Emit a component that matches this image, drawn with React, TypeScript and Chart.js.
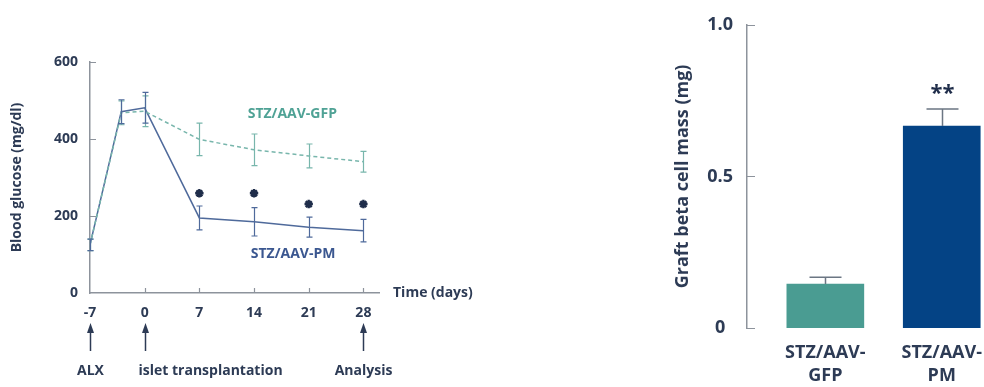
import React, { useEffect, useRef } from "react";
import { Chart, registerables } from "chart.js";

Chart.register(...registerables);

const FONT = "'Open Sans', 'DejaVu Sans', sans-serif";
const TEXT = "#2d3b55";
const AXIS = "#8d939c";
const GFP_LINE = "#78b6ac";
const GFP_TEXT = "#4fa295";
const PM_LINE = "#4f6a9b";
const PM_TEXT = "#3b5790";
const GFP_BAR = "#4a9c92";
const PM_BAR = "#044385";

// ---- left panel data: blood glucose over time ----
const days = [-7, -3, 0, 7, 14, 21, 28];
const gfpMean = [125, 468, 472, 399, 372, 356, 341];
const gfpErr = [15, 31, 40, 42, 41, 31, 27];
const pmMean = [125, 471, 481, 195, 185, 171, 162];
const pmErr = [15, 31, 40, 31, 37, 26, 29];
const starDays = [7, 14, 21, 28];
const starLevels = [259, 259, 231, 231];
const dayTicks = [-7, 0, 7, 14, 21, 28];
const glucoseTicks = [0, 200, 400, 600];
const eventDays = [-7, 0, 28];
const eventNames = ["ALX", "islet transplantation", "Analysis"];
const seriesNames = ["STZ/AAV-GFP", "STZ/AAV-PM"];
const seriesLabelDay = [18.9, 19.0];
const seriesLabelLevel = [465, 101];

// ---- right panel data: graft beta cell mass ----
const groups = [
  ["STZ/AAV-", "GFP"],
  ["STZ/AAV-", "PM"],
];
const massMean = [0.145, 0.666];
const massErr = [0.022, 0.056];
const massTicks = [0, 0.5, 1];
const massSignif = ["", "**"];

export default function App() {
  const leftRef = useRef<HTMLCanvasElement | null>(null);
  const rightRef = useRef<HTMLCanvasElement | null>(null);

  useEffect(() => {
    if (!leftRef.current || !rightRef.current) return;

    const leftPlugin = {
      id: "leftExtras",
      afterDatasetsDraw(chart: any) {
        const ctx = chart.ctx;
        const xs = chart.scales.x;
        const ys = chart.scales.y;
        ctx.save();
        // inward tick marks
        ctx.strokeStyle = AXIS;
        ctx.lineWidth = 1.2;
        ctx.beginPath();
        for (const t of glucoseTicks) {
          if (t === 0) continue;
          const py = Math.round(ys.getPixelForValue(t)) + 0.5;
          ctx.moveTo(xs.left, py);
          ctx.lineTo(xs.left + 6, py);
        }
        for (const d of dayTicks) {
          if (d === dayTicks[0]) continue;
          const px = Math.round(xs.getPixelForValue(d)) + 0.5;
          ctx.moveTo(px, ys.bottom);
          ctx.lineTo(px, ys.bottom - 5);
        }
        ctx.stroke();
        // error bars
        const series: [number[], number[], string][] = [
          [gfpMean, gfpErr, GFP_LINE],
          [pmMean, pmErr, PM_LINE],
        ];
        for (const [mean, err, col] of series) {
          ctx.strokeStyle = col;
          ctx.lineWidth = 1.2;
          ctx.beginPath();
          for (let i = 0; i < days.length; i++) {
            const px = Math.round(xs.getPixelForValue(days[i])) + 0.5;
            const top = ys.getPixelForValue(mean[i] + err[i]);
            const bot = ys.getPixelForValue(mean[i] - err[i]);
            ctx.moveTo(px, top);
            ctx.lineTo(px, bot);
            ctx.moveTo(px - 3, top);
            ctx.lineTo(px + 3, top);
            ctx.moveTo(px - 3, bot);
            ctx.lineTo(px + 3, bot);
          }
          ctx.stroke();
        }
        // series labels
        ctx.font = `700 14px ${FONT}`;
        ctx.textAlign = "center";
        ctx.textBaseline = "middle";
        ctx.fillStyle = GFP_TEXT;
        ctx.fillText(seriesNames[0], xs.getPixelForValue(seriesLabelDay[0]), ys.getPixelForValue(seriesLabelLevel[0]));
        ctx.fillStyle = PM_TEXT;
        ctx.fillText(seriesNames[1], xs.getPixelForValue(seriesLabelDay[1]), ys.getPixelForValue(seriesLabelLevel[1]));
        // axis title on the right end of the x axis
        ctx.fillStyle = TEXT;
        ctx.textAlign = "left";
        ctx.fillText("Time (days)", xs.right + 14, ys.bottom);
        // event arrows and labels
        ctx.strokeStyle = TEXT;
        ctx.fillStyle = TEXT;
        ctx.lineWidth = 1.5;
        for (let i = 0; i < eventDays.length; i++) {
          const px = Math.round(xs.getPixelForValue(eventDays[i])) + 0.5;
          const b = ys.bottom;
          ctx.beginPath();
          ctx.moveTo(px, b + 58);
          ctx.lineTo(px, b + 37);
          ctx.stroke();
          ctx.beginPath();
          ctx.moveTo(px, b + 30);
          ctx.lineTo(px - 3.5, b + 40);
          ctx.lineTo(px + 3.5, b + 40);
          ctx.closePath();
          ctx.fill();
          ctx.textAlign = i === 1 ? "left" : "center";
          ctx.fillText(eventNames[i], i === 1 ? px - 7 : px, b + 78);
        }
        ctx.restore();
      },
    };

    const left = new Chart(leftRef.current, {
      type: "line",
      data: {
        datasets: [
          {
            label: seriesNames[0],
            data: days.map((d, i) => ({ x: d, y: gfpMean[i] })),
            borderColor: GFP_LINE,
            borderWidth: 1.5,
            borderDash: [4, 3],
            pointRadius: 0,
            fill: false,
          },
          {
            label: seriesNames[1],
            data: days.map((d, i) => ({ x: d, y: pmMean[i] })),
            borderColor: PM_LINE,
            borderWidth: 1.5,
            pointRadius: 0,
            fill: false,
          },
          {
            label: "significance",
            data: starDays.map((d, i) => ({ x: d, y: starLevels[i] })),
            showLine: false,
            pointStyle: "star",
            pointRadius: 4.2,
            borderWidth: 2.4,
            borderColor: "#1f2d4a",
            backgroundColor: "#1f2d4a",
          },
        ],
      },
      options: {
        responsive: false,
        animation: false,
        layout: { padding: { top: 62, left: 0, right: 121, bottom: 0 } },
        plugins: { legend: { display: false }, tooltip: { enabled: false } },
        scales: {
          x: {
            type: "linear",
            min: -7,
            max: 30,
            afterBuildTicks: (s: any) => {
              s.ticks = dayTicks.map((v) => ({ value: v }));
            },
            afterFit: (s: any) => {
              s.height = 94;
            },
            grid: { display: false, drawTicks: false },
            border: { display: true, color: AXIS, width: 1.5 },
            ticks: {
              color: TEXT,
              font: { family: FONT, size: 14, weight: "700" },
              padding: 12,
              maxRotation: 0,
              autoSkip: false,
            },
          },
          y: {
            min: 0,
            max: 600,
            afterBuildTicks: (s: any) => {
              s.ticks = glucoseTicks.map((v) => ({ value: v }));
            },
            afterFit: (s: any) => {
              s.width = 90;
            },
            grid: { display: false, drawTicks: false },
            border: { display: true, color: AXIS, width: 1.5 },
            ticks: {
              color: TEXT,
              font: { family: FONT, size: 14, weight: "700" },
              padding: 12,
            },
            title: {
              display: true,
              text: "Blood glucose (mg/dl)",
              color: TEXT,
              font: { family: FONT, size: 14, weight: "700" },
              padding: { top: 9, bottom: 0 },
            },
          },
        },
      },
      plugins: [leftPlugin],
    } as any);

    const rightPlugin = {
      id: "rightExtras",
      afterDatasetsDraw(chart: any) {
        const ctx = chart.ctx;
        const xs = chart.scales.x;
        const ys = chart.scales.y;
        ctx.save();
        ctx.strokeStyle = AXIS;
        ctx.lineWidth = 1.2;
        ctx.beginPath();
        for (const t of massTicks) {
          const py = Math.round(ys.getPixelForValue(t)) + 0.5;
          ctx.moveTo(xs.left, py);
          ctx.lineTo(xs.left + 8, py);
        }
        ctx.stroke();
        for (let i = 0; i < massMean.length; i++) {
          const px = Math.round(xs.getPixelForValue(i)) + 0.5;
          const top = ys.getPixelForValue(massMean[i] + massErr[i]);
          const base = ys.getPixelForValue(massMean[i]);
          ctx.strokeStyle = "#6b7683";
          ctx.lineWidth = 1.5;
          ctx.beginPath();
          ctx.moveTo(px, base);
          ctx.lineTo(px, top);
          ctx.moveTo(px - 16, top);
          ctx.lineTo(px + 16, top);
          ctx.stroke();
          if (massSignif[i]) {
            ctx.fillStyle = "#1f2d4a";
            ctx.font = `700 22px ${FONT}`;
            ctx.textAlign = "center";
            ctx.textBaseline = "alphabetic";
            ctx.fillText(massSignif[i], px, top - 9);
          }
        }
        ctx.restore();
      },
    };

    const right = new Chart(rightRef.current, {
      type: "bar",
      data: {
        datasets: [
          {
            label: "Graft beta cell mass",
            data: massMean.map((v, i) => ({ x: i, y: v })),
            backgroundColor: [GFP_BAR, PM_BAR],
            borderWidth: 0,
            barThickness: 77,
          },
        ],
      },
      options: {
        responsive: false,
        animation: false,
        layout: { padding: { top: 19, left: 0, right: 36, bottom: 0 } },
        plugins: { legend: { display: false }, tooltip: { enabled: false } },
        scales: {
          x: {
            type: "linear",
            min: -0.673,
            max: 1.363,
            offset: false,
            afterBuildTicks: (s: any) => {
              s.ticks = groups.map((_, i) => ({ value: i }));
            },
            afterFit: (s: any) => {
              s.height = 59;
            },
            grid: { display: false, drawTicks: false },
            border: { display: false },
            ticks: {
              color: TEXT,
              font: { family: FONT, size: 18, weight: "700", lineHeight: 1.3 },
              padding: 13,
              maxRotation: 0,
              autoSkip: false,
              callback: (v: any) => groups[Math.round(v)] ?? "",
            },
          },
          y: {
            min: 0,
            max: 1,
            afterBuildTicks: (s: any) => {
              s.ticks = massTicks.map((v) => ({ value: v }));
            },
            afterFit: (s: any) => {
              s.width = 87;
            },
            grid: { display: false, drawTicks: false },
            border: { display: true, color: AXIS, width: 1.5 },
            ticks: {
              color: TEXT,
              crossAlign: "center",
              font: { family: FONT, size: 18, weight: "700" },
              padding: 14,
              callback: (v: any) => (v === 0 ? "0" : Number(v).toFixed(1)),
            },
            title: {
              display: true,
              text: "Graft beta cell mass (mg)",
              color: TEXT,
              font: { family: FONT, size: 18, weight: "700" },
              padding: { top: 12, bottom: 0 },
            },
          },
        },
      },
      plugins: [rightPlugin],
    } as any);

    return () => {
      left.destroy();
      right.destroy();
    };
  }, []);

  return (
    <div
      style={{
        position: "absolute",
        left: 0,
        top: 0,
        width: 984,
        height: 387,
        overflow: "hidden",
        background: "#ffffff",
      }}
    >
      <canvas
        ref={leftRef}
        width={500}
        height={387}
        style={{ position: "absolute", left: 0, top: 0, width: 500, height: 387 }}
      />
      <canvas
        ref={rightRef}
        width={360}
        height={387}
        style={{ position: "absolute", left: 660, top: 0, width: 360, height: 387 }}
      />
    </div>
  );
}
